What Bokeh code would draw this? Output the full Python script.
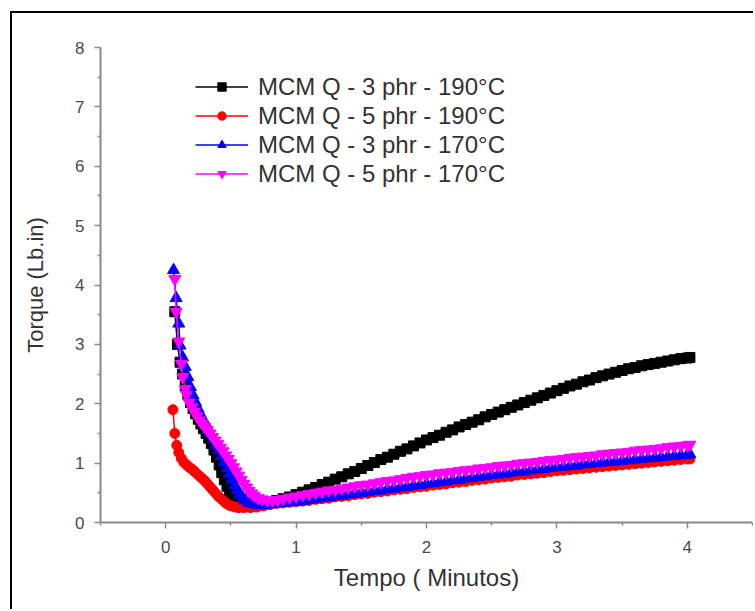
from bokeh.plotting import figure
from bokeh.models import Range1d, Legend, LegendItem, FixedTicker
from bokeh.embed import file_html
from bokeh.resources import INLINE

labels = ["MCM Q - 3 phr - 190°C", "MCM Q - 5 phr - 190°C",
          "MCM Q - 3 phr - 170°C", "MCM Q - 5 phr - 170°C"]

late_t = [1.00, 1.05, 1.10, 1.15, 1.20, 1.25, 1.30, 1.35, 1.40, 1.45, 1.50, 1.55, 1.60, 1.65,
          1.70, 1.75, 1.80, 1.85, 1.90, 1.95, 2.00, 2.05, 2.10, 2.15, 2.20, 2.25, 2.30, 2.35,
          2.40, 2.45, 2.50, 2.55, 2.60, 2.65, 2.70, 2.75, 2.80, 2.85, 2.90, 2.95, 3.00, 3.05,
          3.10, 3.15, 3.20, 3.25, 3.30, 3.35, 3.40, 3.45, 3.50, 3.55, 3.60, 3.65, 3.70, 3.75,
          3.80, 3.85, 3.90, 3.95, 4.00, 4.02]

# MCM Q - 3 phr - 190°C
black_t = [0.07, 0.09, 0.11, 0.13, 0.15, 0.17, 0.19, 0.21, 0.23, 0.25, 0.27, 0.29, 0.31, 0.33,
           0.35, 0.37, 0.39, 0.41, 0.43, 0.45, 0.47, 0.49, 0.51, 0.53, 0.55, 0.57, 0.60, 0.63,
           0.66, 0.70, 0.75, 0.80, 0.85, 0.90, 0.95] + late_t
black_y = [3.55, 3.00, 2.70, 2.50, 2.30, 2.15, 2.02, 1.92, 1.83, 1.74, 1.66, 1.58, 1.50, 1.42,
           1.33, 1.22, 1.10, 0.97, 0.84, 0.72, 0.61, 0.52, 0.44, 0.38, 0.34, 0.31, 0.29, 0.28,
           0.28, 0.29, 0.31, 0.34, 0.37, 0.40, 0.43,
           0.47, 0.51, 0.55, 0.59, 0.64, 0.68, 0.73, 0.77, 0.82, 0.86, 0.91, 0.96, 1.01, 1.06,
           1.10, 1.15, 1.20, 1.24, 1.29, 1.34, 1.39, 1.43, 1.47, 1.52, 1.56, 1.61, 1.65, 1.69,
           1.73, 1.78, 1.82, 1.86, 1.90, 1.94, 1.98, 2.02, 2.06, 2.10, 2.14, 2.18, 2.22, 2.26,
           2.30, 2.33, 2.37, 2.40, 2.44, 2.47, 2.50, 2.53, 2.56, 2.59, 2.61, 2.64, 2.66, 2.68,
           2.70, 2.72, 2.74, 2.76, 2.77, 2.78]

# MCM Q - 5 phr - 190°C
red_t = [0.055, 0.07, 0.085, 0.10, 0.12, 0.14, 0.16, 0.18, 0.20, 0.22, 0.24, 0.26, 0.28, 0.30,
         0.32, 0.34, 0.36, 0.38, 0.40, 0.42, 0.44, 0.46, 0.48, 0.50, 0.53, 0.56, 0.60, 0.65,
         0.70, 0.75, 0.80, 0.85, 0.90, 0.95] + late_t
red_y = [1.90, 1.50, 1.30, 1.18, 1.08, 1.01, 0.97, 0.93, 0.90, 0.86, 0.82, 0.78, 0.74, 0.70,
         0.65, 0.60, 0.55, 0.50, 0.45, 0.41, 0.37, 0.33, 0.30, 0.28, 0.26, 0.25, 0.25, 0.25,
         0.26, 0.28, 0.30, 0.32, 0.33, 0.34,
         0.35, 0.36, 0.37, 0.39, 0.40, 0.41, 0.43, 0.44, 0.45, 0.47, 0.48, 0.49, 0.51, 0.52,
         0.53, 0.55, 0.56, 0.57, 0.59, 0.60, 0.61, 0.63, 0.64, 0.65, 0.67, 0.68, 0.69, 0.71,
         0.72, 0.73, 0.75, 0.76, 0.77, 0.78, 0.80, 0.81, 0.82, 0.83, 0.84, 0.86, 0.87, 0.88,
         0.89, 0.90, 0.91, 0.92, 0.93, 0.94, 0.95, 0.96, 0.97, 0.98, 0.99, 1.00, 1.01, 1.02,
         1.03, 1.04, 1.05, 1.06, 1.07, 1.07]

# MCM Q - 3 phr - 170°C
blue_t = [0.06, 0.08, 0.10, 0.11, 0.13, 0.15, 0.17, 0.19, 0.21, 0.23, 0.25, 0.27, 0.29, 0.31,
          0.33, 0.35, 0.37, 0.39, 0.41, 0.43, 0.45, 0.47, 0.49, 0.51, 0.53, 0.55, 0.57, 0.59,
          0.61, 0.64, 0.67, 0.70, 0.74, 0.78, 0.82, 0.86, 0.90, 0.95] + late_t
blue_y = [4.25, 3.78, 3.35, 2.98, 2.78, 2.62, 2.45, 2.28, 2.14, 2.02, 1.91, 1.81, 1.72, 1.64,
          1.56, 1.48, 1.40, 1.31, 1.22, 1.12, 1.02, 0.92, 0.82, 0.72, 0.63, 0.55, 0.48, 0.42,
          0.37, 0.33, 0.31, 0.30, 0.29, 0.30, 0.31, 0.32, 0.33, 0.34,
          0.35, 0.36, 0.38, 0.39, 0.41, 0.42, 0.44, 0.45, 0.47, 0.48, 0.50, 0.51, 0.53, 0.54,
          0.56, 0.57, 0.59, 0.60, 0.62, 0.63, 0.65, 0.66, 0.68, 0.69, 0.71, 0.72, 0.74, 0.75,
          0.77, 0.78, 0.80, 0.81, 0.82, 0.84, 0.85, 0.86, 0.88, 0.89, 0.90, 0.92, 0.93, 0.94,
          0.95, 0.96, 0.98, 0.99, 1.00, 1.01, 1.02, 1.03, 1.04, 1.05, 1.06, 1.07, 1.08, 1.09,
          1.10, 1.11, 1.12, 1.13, 1.14, 1.15]

# MCM Q - 5 phr - 170°C
mag_t = [0.07, 0.08, 0.10, 0.12, 0.13, 0.15, 0.16, 0.18, 0.20, 0.22, 0.24, 0.26, 0.28, 0.30,
         0.32, 0.34, 0.36, 0.38, 0.40, 0.42, 0.44, 0.46, 0.48, 0.50, 0.52, 0.54, 0.56, 0.58,
         0.60, 0.62, 0.64, 0.66, 0.68, 0.71, 0.74, 0.78, 0.82, 0.86, 0.90, 0.95] + late_t
mag_y = [4.10, 3.55, 3.05, 2.67, 2.45, 2.25, 2.15, 2.02, 1.94, 1.86, 1.79, 1.72, 1.67, 1.61,
         1.56, 1.50, 1.44, 1.38, 1.32, 1.26, 1.20, 1.13, 1.07, 1.00, 0.93, 0.86, 0.79, 0.72,
         0.65, 0.59, 0.53, 0.49, 0.45, 0.41, 0.39, 0.37, 0.37, 0.38, 0.40, 0.42,
         0.44, 0.46, 0.48, 0.50, 0.52, 0.54, 0.55, 0.57, 0.59, 0.61, 0.63, 0.64, 0.66, 0.68,
         0.70, 0.71, 0.73, 0.75, 0.77, 0.78, 0.80, 0.81, 0.83, 0.84, 0.85, 0.87, 0.88, 0.89,
         0.91, 0.92, 0.93, 0.95, 0.96, 0.97, 0.99, 1.00, 1.01, 1.02, 1.04, 1.05, 1.06, 1.07,
         1.09, 1.10, 1.11, 1.12, 1.13, 1.15, 1.16, 1.17, 1.18, 1.19, 1.21, 1.22, 1.23, 1.24,
         1.25, 1.27, 1.28, 1.29, 1.30, 1.31]

x_ticks = [0, 1, 2, 3, 4]
y_ticks = [0, 1, 2, 3, 4, 5, 6, 7, 8]

FONT = "Liberation Sans"

p = figure(width=743, height=598, output_backend="svg", toolbar_location=None,
           x_range=Range1d(-0.5, 4.5), y_range=Range1d(0, 8),
           min_border_left=88, min_border_top=34, min_border_bottom=89, min_border_right=3)
p.styles = {"margin-left": "10px", "margin-top": "11px",
            "border-left": "2px solid black", "border-top": "2px solid black"}
p.outline_line_color = None
p.grid.visible = False
p.background_fill_color = "white"
p.border_fill_color = "white"

for ax in (p.xaxis[0], p.yaxis[0]):
    ax.axis_line_color = "#8a8a8a"
    ax.axis_line_width = 2
    ax.major_tick_line_color = "#8a8a8a"
    ax.minor_tick_line_color = "#8a8a8a"
    ax.major_tick_line_width = 1.5
    ax.minor_tick_line_width = 1.5
    ax.major_tick_out = 6
    ax.major_tick_in = 0
    ax.minor_tick_out = 3
    ax.minor_tick_in = 0
    ax.major_label_text_font = FONT
    ax.major_label_text_font_size = "17px"
    ax.major_label_text_color = "#4a4a4a"
    ax.axis_label_text_font = FONT
    ax.axis_label_text_font_style = "normal"
    ax.axis_label_text_color = "#333333"

p.xaxis[0].axis_label_text_font_size = "24px"
p.yaxis[0].axis_label_text_font_size = "22px"
p.xaxis[0].ticker = FixedTicker(ticks=x_ticks, minor_ticks=[-0.5, 0.5, 1.5, 2.5, 3.5, 4.5])
p.yaxis[0].ticker = FixedTicker(ticks=y_ticks, minor_ticks=[0.5, 1.5, 2.5, 3.5, 4.5, 5.5, 6.5, 7.5])
p.xaxis[0].axis_label = "Tempo ( Minutos)"
p.yaxis[0].axis_label = "Torque (Lb.in)"
p.xaxis[0].major_label_standoff = 12
p.xaxis[0].axis_label_standoff = 8
p.yaxis[0].major_label_standoff = 10
p.yaxis[0].axis_label_standoff = 24

series = [
    (black_t, black_y, "#000000", "square", 10),
    (red_t, red_y, "#ff0000", "circle", 10),
    (blue_t, blue_y, "#0000ff", "triangle", 12),
    (mag_t, mag_y, "#ff00ff", "inverted_triangle", 12),
]

items = []
for (xs, ys, col, mk, sz), lab in zip(series, labels):
    ln = p.line(xs, ys, line_color=col, line_width=1.5)
    sc = p.scatter(xs, ys, marker=mk, size=sz, fill_color=col, line_color=col)
    items.append(LegendItem(label=lab, renderers=[ln, sc]))

legend = Legend(items=items, location=(95, 334), padding=0, margin=0, spacing=0,
                label_height=29, glyph_height=21, glyph_width=53, label_standoff=10,
                label_text_font=FONT, label_text_font_size="24px", label_text_color="#333333",
                border_line_color=None, background_fill_alpha=0)
p.add_layout(legend)

open("out.html", "w").write(file_html(p, INLINE))
